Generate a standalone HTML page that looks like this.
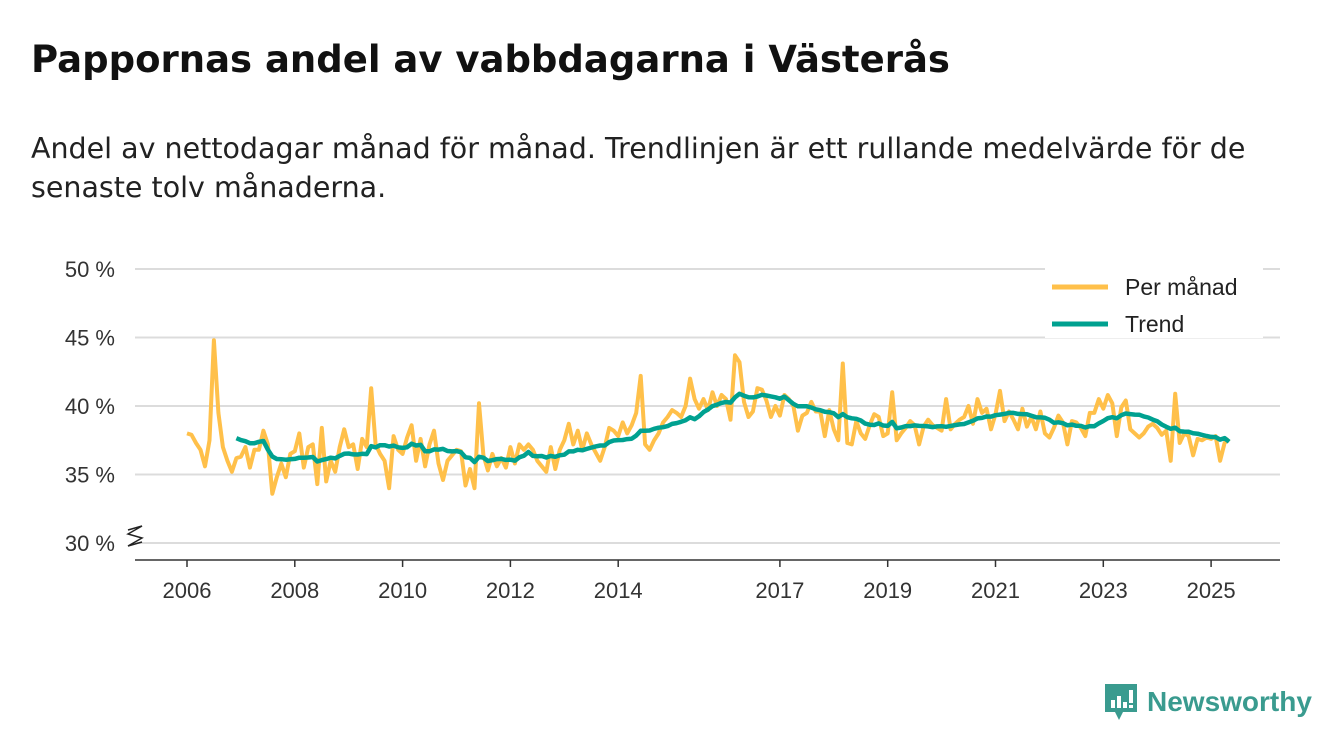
<!DOCTYPE html>
<html><head><meta charset="utf-8"><style>
body{margin:0;width:1340px;height:753px;background:#fff;font-family:"Liberation Sans","DejaVu Sans",sans-serif;overflow:hidden}
#title{position:absolute;left:31px;top:38px;font-size:37px;font-weight:bold;color:#111;font-family:"DejaVu Sans",sans-serif}
#sub{position:absolute;left:31px;top:129px;width:1300px;font-size:28.5px;line-height:39px;color:#222;font-family:"DejaVu Sans",sans-serif;white-space:nowrap}
#logo{position:absolute;left:1103px;top:682px;display:flex;align-items:center;gap:8px;color:#3a9b8f;font-size:28px;font-weight:bold}
</style></head><body>
<div id="title">Pappornas andel av vabbdagarna i Västerås</div>
<div id="sub">Andel av nettodagar månad för månad. Trendlinjen är ett rullande medelvärde för de<br>senaste tolv månaderna.</div>
<svg id="chart" width="1340" height="753" style="position:absolute;left:0;top:0"></svg>
<div id="logo">
<svg width="36" height="40" viewBox="0 0 36 40"><path d="M2 2h32v28H20l-4 8-4-8H2z" fill="#3a9b8f"/><rect x="8" y="18" width="4" height="8" fill="#fff"/><rect x="14" y="14" width="4" height="12" fill="#fff"/><rect x="20" y="20" width="4" height="6" fill="#fff"/><rect x="26" y="8" width="4" height="13" fill="#fff"/><rect x="26" y="23" width="4" height="3" fill="#fff"/></svg>
<span>Newsworthy</span></div>
<script>
const startYear=2006;
const monthly=[
38.0,37.9,37.3,36.8,35.6,37.5,44.8,39.5,37.0,36.0,35.2,36.2,
36.3,37.0,35.5,36.8,36.8,38.2,37.2,33.6,34.8,35.8,34.8,36.5,
36.7,38.0,35.5,37.0,37.2,34.3,38.4,34.5,36.0,35.2,37.0,38.3,
37.0,37.2,35.4,37.6,37.0,41.3,37.2,36.5,36.0,34.0,37.8,36.8,
36.5,37.7,38.6,36.0,37.6,35.6,37.2,38.2,35.8,34.6,36.0,36.4,
36.8,36.7,34.2,35.4,34.0,40.2,36.4,35.3,36.5,35.6,36.2,35.5,
37.0,35.8,37.2,36.8,37.2,36.8,36.0,35.6,35.2,37.0,35.4,36.8,
37.5,38.7,37.2,38.2,36.8,38.0,37.2,36.6,36.0,37.0,38.4,38.2,
37.8,38.8,38.0,38.6,39.5,42.2,37.2,36.8,37.5,38.0,38.8,39.2,
39.7,39.5,39.2,40.0,42.0,40.5,39.8,40.5,39.7,41.0,40.0,40.8,
40.5,39.0,43.7,43.2,40.3,39.2,39.6,41.3,41.2,40.4,39.2,40.0,
39.3,40.8,40.5,40.0,38.2,39.3,39.5,40.3,39.6,39.6,37.8,39.7,
38.3,37.5,43.1,37.3,37.2,38.9,38.0,37.6,38.6,39.4,39.2,37.8,
38.0,41.0,37.5,38.0,38.4,38.9,38.6,37.2,38.5,39.0,38.6,38.4,
38.2,40.5,38.3,38.7,39.0,39.2,40.0,38.7,40.5,39.5,39.8,38.3,
39.4,41.1,38.9,39.6,39.0,38.3,39.8,38.5,39.2,38.3,39.6,38.0,
37.7,38.4,39.3,38.8,37.2,38.9,38.8,38.4,37.8,39.5,39.5,40.5,
39.8,40.8,40.2,37.8,39.9,40.4,38.3,38.0,37.7,38.0,38.5,38.7,
38.4,37.9,38.2,36.0,40.9,37.3,38.0,37.8,36.4,37.6,37.5,37.7,
37.6,37.8,36.0,37.3,37.6];
const yTicks=[30,35,40,45,50];
const xTickYears=[2006,2008,2010,2012,2014,2017,2019,2021,2023,2025];
const NS="http://www.w3.org/2000/svg";
const svg=document.getElementById('chart');
const X=t=>187+(t-2006)*53.9;
const Y=v=>543-(v-30)*13.7;
function mk(tag,a,p){const e=document.createElementNS(NS,tag);for(const k in a)e.setAttribute(k,a[k]);(p||svg).appendChild(e);return e;}
yTicks.forEach(v=>{
 const g=mk('line',{x1:135,x2:1280,y1:Y(v),y2:Y(v),stroke:'#dcdcdc','stroke-width':2});
 
 
 const t=mk('text',{x:115,y:Y(v)+8,'text-anchor':'end','font-size':22,fill:'#333'});
 t.textContent=v+' %';
 
 
});
const br=mk('path',{d:'M128 530 l14 -4 l-14 8 l14 4 l-14 8 l14 -4',fill:'none',stroke:'#222','stroke-width':1.5});


const ax=mk('line',{x1:135,x2:1280,y1:560,y2:560,stroke:'#333','stroke-width':1.5});


xTickYears.forEach(yr=>{
 const tk=mk('line',{x1:X(yr),x2:X(yr),y1:560,y2:567,stroke:'#333','stroke-width':1.5});
 
 
 const t=mk('text',{x:X(yr),y:598,'text-anchor':'middle','font-size':22,fill:'#333'});
 t.textContent=yr;
 
 
});
const pts=monthly.map((v,i)=>X(startYear+i/12).toFixed(1)+','+Y(v).toFixed(1));
const l1=mk('polyline',{points:pts.join(' '),fill:'none',stroke:'#ffc04a','stroke-width':4,'stroke-linejoin':'round'});


const tp=[];
for(let i=11;i<monthly.length;i++){let s=0;for(let j=i-11;j<=i;j++)s+=monthly[j];tp.push(X(startYear+i/12).toFixed(1)+','+Y(s/12).toFixed(1));}
const l2=mk('polyline',{points:tp.join(' '),fill:'none',stroke:'#00a190','stroke-width':4.5,'stroke-linejoin':'round'});


const lg=mk('g',{});


mk('rect',{x:1045,y:266,width:218,height:72,fill:'#fff'},lg);
[['Per månad','#ffc04a',287],['Trend','#00a190',324]].forEach(([n,c,y])=>{
 const e=mk('line',{x1:1052,x2:1108,y1:y,y2:y,stroke:c,'stroke-width':5},lg);
 
 
 const t=mk('text',{x:1125,y:y+8,'font-size':23,fill:'#222'},lg);
 t.textContent=n;
 
 
});
</script>
</body></html>
